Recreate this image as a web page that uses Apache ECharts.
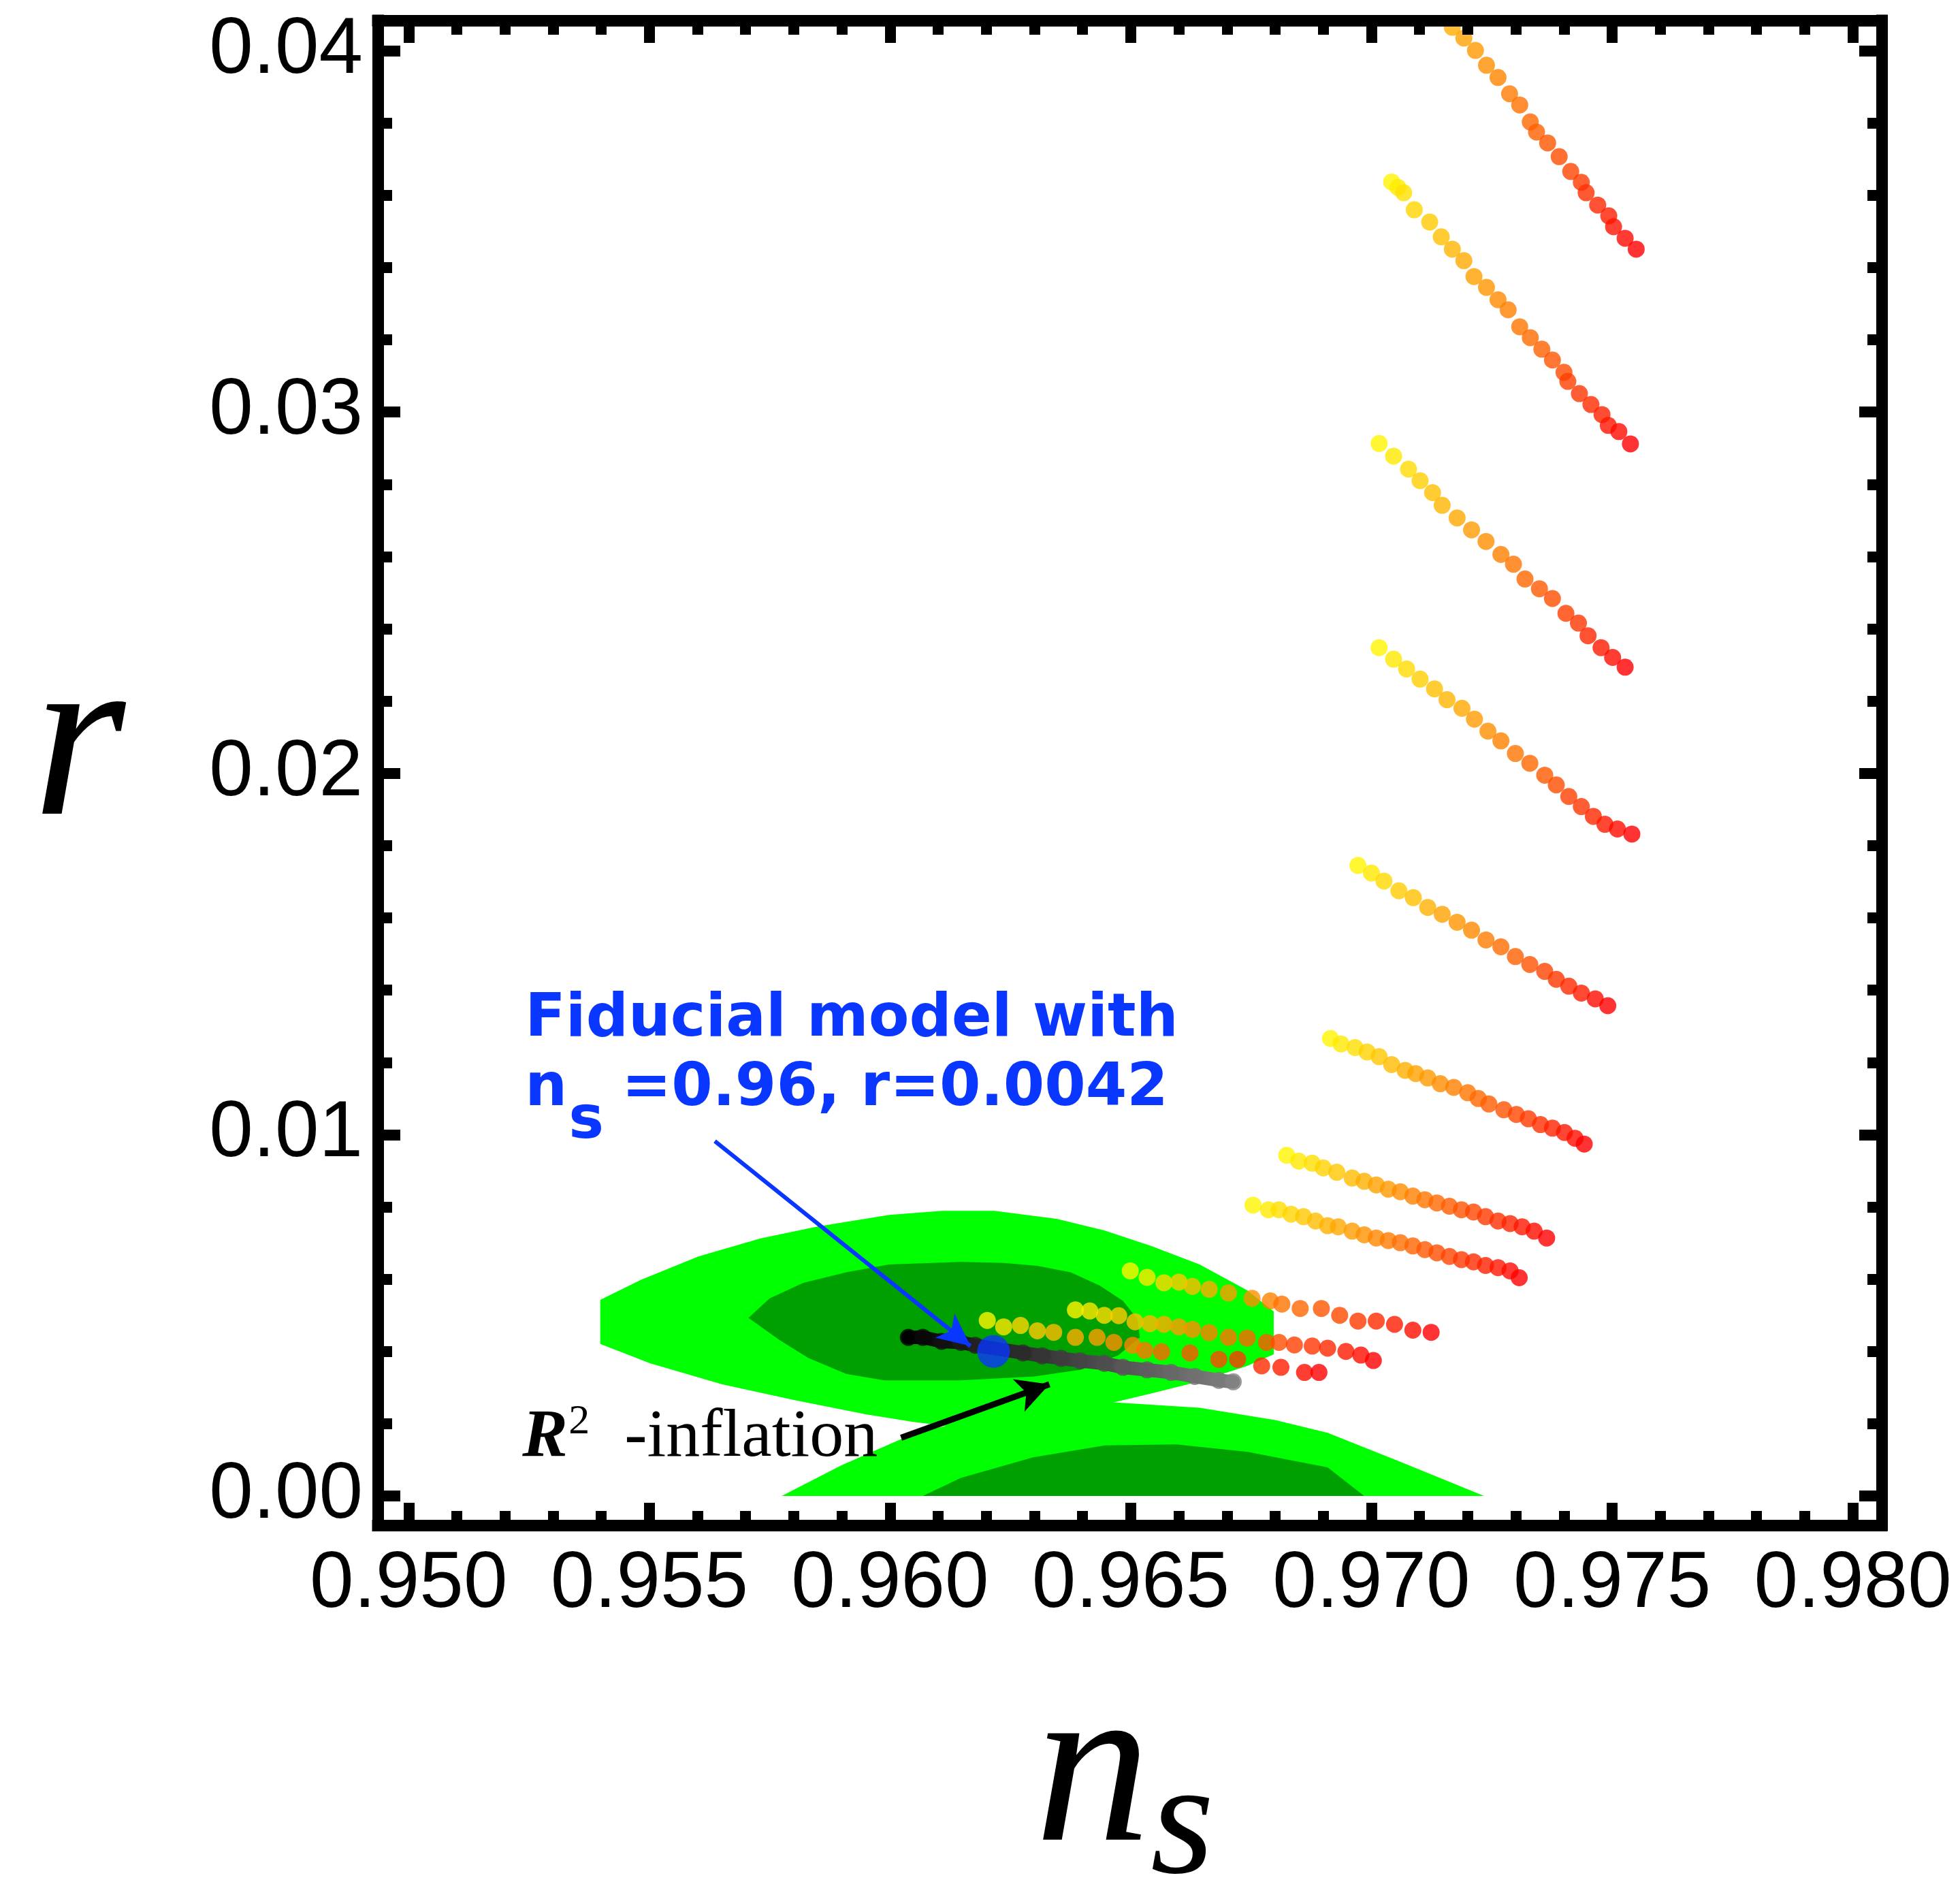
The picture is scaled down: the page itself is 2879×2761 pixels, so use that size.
<!DOCTYPE html>
<html>
<head>
<meta charset="utf-8">
<title>r vs n_s</title>
<script src="https://cdn.jsdelivr.net/npm/echarts@6/dist/echarts.min.js"></script>
<style>
html,body{margin:0;padding:0;background:#fff;}
#main{width:2879px;height:2761px;}
</style>
</head>
<body>
<div id="main"></div>
<script>
// axis ranges and tick labels
var nsRange = [0.94936, 0.9806];
var rRange = [-0.00081, 0.04084];
var nsTicks = [0.950, 0.955, 0.960, 0.965, 0.970, 0.975, 0.980];
var rTicks = [0.00, 0.01, 0.02, 0.03, 0.04];

// confidence contours (n_s, r)
var upperOuter = [[0.95398,0.00543],[0.95482,0.00598],[0.95602,0.00663],[0.95731,0.00713],[0.95850,0.00746],[0.95998,0.00778],[0.96108,0.00789],[0.96217,0.00789],[0.96346,0.00767],[0.96445,0.00735],[0.96544,0.00691],[0.96643,0.00641],[0.96742,0.00569],[0.96797,0.00511],[0.96797,0.00392],[0.96742,0.00360],[0.96643,0.00317],[0.96544,0.00284],[0.96465,0.00259],[0.96300,0.00215],[0.96117,0.00194],[0.96048,0.00205],[0.95949,0.00226],[0.95800,0.00266],[0.95651,0.00309],[0.95502,0.00367],[0.95398,0.00421]];
var upperInner = [[0.95706,0.00493],[0.95750,0.00547],[0.95820,0.00590],[0.95909,0.00619],[0.95998,0.00641],[0.96147,0.00648],[0.96236,0.00645],[0.96306,0.00637],[0.96375,0.00619],[0.96435,0.00583],[0.96484,0.00540],[0.96514,0.00489],[0.96519,0.00439],[0.96474,0.00389],[0.96395,0.00349],[0.96300,0.00331],[0.96147,0.00320],[0.95988,0.00320],[0.95909,0.00338],[0.95830,0.00382],[0.95770,0.00432]];
var lowerOuter = [[0.95775,0],[0.95899,0.00085],[0.96048,0.00172],[0.96200,0.00222],[0.96346,0.00251],[0.96465,0.00259],[0.96643,0.00244],[0.96800,0.00210],[0.96909,0.00175],[0.97059,0.00095],[0.97234,0]];
var lowerInner = [[0.96068,0],[0.96147,0.00050],[0.96297,0.00107],[0.96446,0.00140],[0.96595,0.00143],[0.96743,0.00122],[0.96909,0.00079],[0.96985,0]];

// model tracks, yellow end first
var lineA = [[0.97168,0.04065],[0.97192,0.04035],[0.97216,0.04001],[0.97239,0.0396],[0.97263,0.03926],[0.97287,0.03881],[0.97308,0.0385],[0.9733,0.03803],[0.97343,0.03775],[0.97366,0.03745],[0.9739,0.03707],[0.97414,0.03666],[0.97436,0.03636],[0.97446,0.03607],[0.9747,0.03573],[0.97493,0.03543],[0.97503,0.03513],[0.97527,0.03481],[0.9755,0.03451]];
var lineB = [[0.97042,0.03637],[0.97055,0.03622],[0.97067,0.03607],[0.97089,0.0356],[0.97121,0.03526],[0.97145,0.03485],[0.97168,0.03451],[0.97192,0.03419],[0.97213,0.03375],[0.97239,0.03345],[0.97263,0.03311],[0.97284,0.03283],[0.97308,0.03236],[0.9733,0.03206],[0.97354,0.03174],[0.97376,0.03144],[0.974,0.0311],[0.97408,0.03085],[0.97432,0.03051],[0.97456,0.03021],[0.97479,0.02993],[0.97492,0.02963],[0.97514,0.02946],[0.97538,0.02912]];
var lineC = [[0.97016,0.02913],[0.97046,0.02878],[0.97077,0.02842],[0.97101,0.0281],[0.97127,0.02777],[0.97147,0.02742],[0.97178,0.02707],[0.97208,0.02674],[0.97238,0.02642],[0.97269,0.02606],[0.97295,0.02579],[0.97319,0.02538],[0.97349,0.02511],[0.97376,0.02484],[0.97404,0.02443],[0.9743,0.02416],[0.9745,0.02381],[0.97477,0.02348],[0.97501,0.02321],[0.97527,0.02294]];
var lineD = [[0.97016,0.02348],[0.97046,0.02316],[0.97073,0.02289],[0.97101,0.02261],[0.97131,0.02234],[0.97157,0.02204],[0.97188,0.0218],[0.97214,0.0215],[0.97242,0.02117],[0.97269,0.0209],[0.97299,0.02055],[0.97329,0.02028],[0.9736,0.01995],[0.97384,0.01968],[0.9741,0.01936],[0.97436,0.01908],[0.97461,0.01881],[0.97485,0.01859],[0.97511,0.01846],[0.97541,0.01832]];
var lineE = [[0.96972,0.01745],[0.97,0.01724],[0.97026,0.01702],[0.97057,0.01675],[0.97087,0.01656],[0.97117,0.01629],[0.97147,0.0161],[0.97178,0.01588],[0.97208,0.01566],[0.97238,0.01539],[0.97269,0.0152],[0.97299,0.01493],[0.97329,0.01471],[0.9736,0.01452],[0.97384,0.0143],[0.9741,0.01411],[0.97436,0.01392],[0.97465,0.01376],[0.97491,0.01357]];
var lineF = [[0.96915,0.01266],[0.96937,0.01251],[0.96966,0.01241],[0.96991,0.01229],[0.97016,0.01216],[0.97042,0.01194],[0.9707,0.01178],[0.97092,0.01169],[0.97117,0.01157],[0.97143,0.01141],[0.97171,0.01131],[0.972,0.01116],[0.97222,0.011],[0.97244,0.01085],[0.97275,0.01069],[0.97301,0.01056],[0.97326,0.01044],[0.97351,0.01028],[0.97376,0.01018],[0.97401,0.01006],[0.97423,0.0099],[0.97442,0.00974]];
var lineG = [[0.96824,0.00943],[0.96849,0.00927],[0.96877,0.00921],[0.969,0.00908],[0.96928,0.00896],[0.9696,0.0088],[0.96985,0.00871],[0.9701,0.00861],[0.97035,0.00849],[0.9706,0.00842],[0.97086,0.0083],[0.97111,0.0082],[0.97136,0.00811],[0.97162,0.00802],[0.97187,0.00792],[0.97212,0.00786],[0.97237,0.00773],[0.97263,0.00761],[0.97288,0.00754],[0.97313,0.00745],[0.97338,0.00733],[0.97364,0.00714]];
var lineH = [[0.96754,0.00805],[0.96786,0.00792],[0.96808,0.00792],[0.96833,0.0078],[0.96859,0.00773],[0.96884,0.00761],[0.96909,0.00748],[0.96931,0.00745],[0.9696,0.00733],[0.96985,0.00723],[0.9701,0.00714],[0.97035,0.00707],[0.9706,0.00701],[0.97086,0.00692],[0.97111,0.00682],[0.97136,0.00673],[0.97162,0.00663],[0.97187,0.00654],[0.97212,0.00648],[0.97237,0.00638],[0.97263,0.00632],[0.97288,0.00623],[0.97307,0.00604]];
var lineI = [[0.96499,0.00623],[0.96534,0.00605],[0.96569,0.0059],[0.966,0.00592],[0.96628,0.0058],[0.96663,0.00572],[0.96703,0.00562],[0.96752,0.00547],[0.9679,0.0054],[0.96814,0.00531],[0.96852,0.00519],[0.96896,0.00519],[0.96934,0.005],[0.96972,0.00484],[0.9701,0.00484],[0.97048,0.00475],[0.97086,0.00459],[0.97124,0.00453]];
var lineJ = [[0.96385,0.00515],[0.96415,0.00512],[0.96445,0.005],[0.96475,0.00499],[0.96509,0.00482],[0.9654,0.00477],[0.96569,0.00475],[0.966,0.00468],[0.96628,0.00461],[0.96663,0.00452],[0.96703,0.00439],[0.96742,0.00437],[0.96782,0.00425],[0.96808,0.00425],[0.9684,0.00418],[0.96877,0.00415],[0.96909,0.00409],[0.96947,0.004],[0.96978,0.0039],[0.97004,0.00375]];
var lineK = [[0.96202,0.00486],[0.96236,0.00468],[0.96271,0.00472],[0.96306,0.00457],[0.9634,0.00453],[0.96385,0.00439],[0.9643,0.00439],[0.96465,0.00425],[0.96504,0.00417],[0.96529,0.00403],[0.96564,0.00399],[0.96623,0.00396],[0.96683,0.00378],[0.96722,0.00378],[0.96772,0.0036],[0.96812,0.00356],[0.96861,0.00342],[0.96891,0.00342]];
// R^2 inflation track (black to grey)
var r2Line = [[0.96038,0.00439],[0.96068,0.00439],[0.96107,0.00428],[0.96147,0.00425],[0.96177,0.00417],[0.96276,0.00396],[0.96316,0.00388],[0.96355,0.00381],[0.96395,0.00374],[0.96445,0.00367],[0.96484,0.00356],[0.96534,0.00349],[0.96584,0.00342],[0.96633,0.00331],[0.96683,0.0032],[0.96713,0.00316]];
var fiducial = [[0.96215, 0.0040]];
var blueArrow = [[0.95636, 0.00982], [0.96167, 0.00415]];
var blackArrow = [[0.96023, 0.00161], [0.96331, 0.00309]];

var nsMinor = [], rMinor = [];
for (var i = 950; i <= 980; i++) { if (i % 5) nsMinor.push(i / 1000); }
for (var j = 0; j <= 40; j += 2) { if (j % 10) rMinor.push(j / 1000); }

function heat(t) {
	var g = Math.round(245 * (1 - t));
	return 'rgb(255,' + g + ',0)';
}
function grey(t) {
	var v = Math.round(130 * t);
	return 'rgb(' + v + ',' + v + ',' + v + ')';
}

function polySeries(pts, color, z) {
	return {
		type: 'custom', silent: true, z: z, clip: true,
		data: pts,
		encode: {x: 0, y: 1},
		renderItem: function(params, api) {
			if (params.dataIndex !== 0) return null;
			var p = pts.map(function(v) { return api.coord(v); });
			return {type: 'polygon', shape: {points: p}, style: {fill: color}};
		}
	};
}

function dotSeries(pts, t0, colorFn) {
	return {
		type: 'scatter', silent: true, z: 3, symbolSize: 25,
		data: pts.map(function(p, i) {
			var t = t0 + (1 - t0) * i / (pts.length - 1);
			return {value: p, itemStyle: {color: colorFn(t)}};
		})
	};
}

var frame = {color: '#000', width: 17, cap: 'square'};

function xAx(pos, vals, len, showLine, showLabel) {
	return {
		type: 'value', position: pos, min: nsRange[0], max: nsRange[1], z: 10,
		axisLine: {show: showLine, onZero: false, lineStyle: frame},
		axisTick: {show: true, inside: true, length: len, customValues: vals, lineStyle: {color: '#000', width: 16}},
		axisLabel: {show: showLabel, customValues: vals, margin: 30, fontSize: 116, color: '#000',
			fontFamily: 'Liberation Sans', formatter: function(v) { return v.toFixed(3); }},
		splitLine: {show: false}
	};
}
function yAx(pos, vals, len, showLine, showLabel) {
	return {
		type: 'value', position: pos, min: rRange[0], max: rRange[1], z: 10,
		axisLine: {show: showLine, onZero: false, lineStyle: frame},
		axisTick: {show: true, inside: true, length: len, customValues: vals, lineStyle: {color: '#000', width: 16}},
		axisLabel: {show: showLabel, customValues: vals, margin: 22, fontSize: 116, color: '#000',
			fontFamily: 'Liberation Sans', formatter: function(v) { return v.toFixed(2); }},
		splitLine: {show: false}
	};
}

var chart = echarts.init(document.getElementById('main'));
var series = [
	polySeries(upperOuter, '#00ff00', 1),
	polySeries(lowerOuter, '#00ff00', 1),
	polySeries(upperInner, '#00a000', 1),
	polySeries(lowerInner, '#00a000', 1),
	dotSeries(lineA, 0.3, heat),
	dotSeries(lineB, 0, heat),
	dotSeries(lineC, 0, heat),
	dotSeries(lineD, 0, heat),
	dotSeries(lineE, 0, heat),
	dotSeries(lineF, 0, heat),
	dotSeries(lineG, 0, heat),
	dotSeries(lineH, 0, heat),
	dotSeries(lineI, 0, heat),
	dotSeries(lineJ, 0, heat),
	dotSeries(lineK, 0, heat),
	{
		// dense R^2 track: drawn as a thick black-to-grey stroke under its dots
		type: 'line', silent: true, z: 3, symbol: 'none', data: r2Line,
		lineStyle: {width: 20, cap: 'round', join: 'round',
			color: new echarts.graphic.LinearGradient(0, 0, 1, 0, [{offset: 0, color: '#000'}, {offset: 1, color: '#828282'}])}
	},
	dotSeries(r2Line, 0, grey),
	{
		type: 'scatter', silent: true, z: 5, symbolSize: 48,
		itemStyle: {color: '#0a37ff'},
		data: fiducial,
		markLine: {
			silent: true, animation: false, symbol: ['none', 'arrow'], label: {show: false},
			emphasis: {disabled: true},
			data: [
				[{coord: blueArrow[0], symbolSize: [34, 48], lineStyle: {color: '#0a37ff', width: 6, type: 'solid'}},
				 {coord: blueArrow[1], symbolSize: [34, 48], lineStyle: {color: '#0a37ff', width: 6, type: 'solid'}}],
				[{coord: blackArrow[0], symbolSize: [38, 48], lineStyle: {color: '#000', width: 9, type: 'solid'}},
				 {coord: blackArrow[1], symbolSize: [38, 48], lineStyle: {color: '#000', width: 9, type: 'solid'}}]
			]
		}
	}
];

chart.setOption({
	animation: false,
	backgroundColor: '#fff',
	grid: {left: 555, top: 30, width: 2209, height: 2210, containLabel: false, outerBoundsMode: 'none'},
	xAxis: [
		xAx('bottom', nsTicks, 33, true, true),
		xAx('top', nsTicks, 33, true, false),
		xAx('bottom', nsMinor, 21, false, false),
		xAx('top', nsMinor, 21, false, false)
	],
	yAxis: [
		yAx('left', rTicks, 33, true, true),
		yAx('right', rTicks, 33, true, false),
		yAx('left', rMinor, 21, false, false),
		yAx('right', rMinor, 21, false, false)
	],
	series: series
});

// annotations, anchored at data positions (left edge, text baseline)
function px(v) { return chart.convertToPixel({gridIndex: 0}, v); }
function txt(x, base, s, font, size, color, italic, weight) {
	var mid = base - 0.34 * size;
	return {type: 'text', z: 20, x: x, y: mid, style: {text: s, fill: color, fontFamily: font, fontSize: size,
		fontStyle: italic ? 'italic' : 'normal', fontWeight: weight || 'normal', align: 'left', verticalAlign: 'middle'}};
}
var f1 = px([0.95242, 0.01261]);
var f2 = px([0.95242, 0.01069]);
var rr = px([0.95236, 0.00096]);
var blue = '#0a37ff';
var fid = 'DejaVu Sans';
chart.setOption({
	graphic: [
		txt(f1[0], f1[1], 'Fiducial model with', fid, 87, blue, false, 'bold'),
		txt(f2[0], f2[1], 'n', fid, 87, blue, false, 'bold'),
		txt(f2[0] + 64, f2[1] + 48, 's', fid, 87, blue, false, 'bold'),
		txt(f2[0] + 142, f2[1], '=0.96, r=0.0042', fid, 87, blue, false, 'bold'),
		txt(rr[0], rr[1], 'R', 'Liberation Serif', 100, '#000', true, 'bold'),
		txt(rr[0] + 68, rr[1] - 36, '2', 'Liberation Serif', 62, '#000', false, 'normal'),
		txt(rr[0] + 150, rr[1], '-inflation', 'Liberation Serif', 100, '#000', false, 'normal'),
		txt(48, 1222, 'r', 'Liberation Serif', 350, '#000', true, 'normal'),
		txt(1520, 2728, 'n', 'Liberation Serif', 340, '#000', true, 'normal'),
		txt(1690, 2769, 's', 'Liberation Serif', 240, '#000', true, 'normal')
	]
});
</script>
</body>
</html>
